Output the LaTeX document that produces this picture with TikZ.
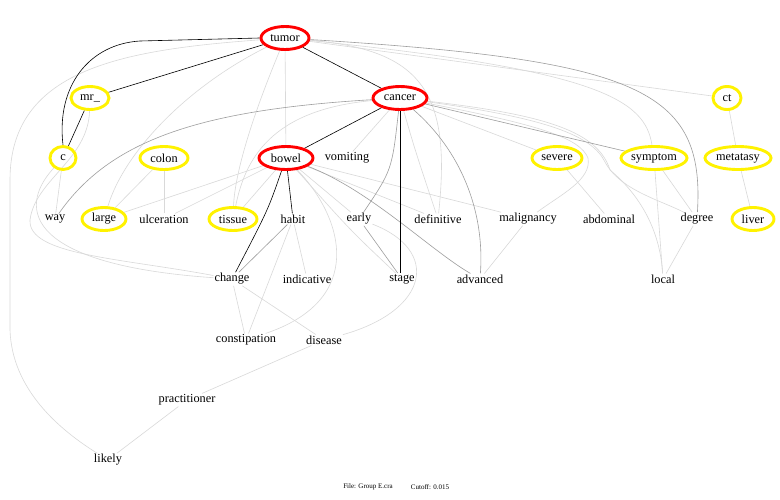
\documentclass[tikz,border=0pt]{standalone}
\usepackage{fontspec}
\setmainfont{Liberation Serif}
\usetikzlibrary{shapes.geometric,backgrounds}
\begin{document}
\begin{tikzpicture}[x=1pt,y=-1pt,
 lab/.style={font=\fontsize{12.3}{14}\selectfont, inner sep=1pt},
 rnode/.style={lab, ellipse, draw=red, line width=2.9pt, minimum height=23pt, inner sep=0pt},
 ynode/.style={lab, ellipse, draw=yellow, line width=2.9pt, minimum height=23pt, inner sep=0pt},
 foot/.style={font=\fontsize{7}{8}\selectfont, inner sep=0pt},
 blk/.style={draw=black, line width=0.6pt},
 dg/.style={draw=black!38, line width=0.6pt},
 lg/.style={draw=black!15, line width=0.6pt}]
\useasboundingbox (0,0) rectangle (780,499);
% nodes
\node[rnode, minimum width=48pt] (tumor) at (285,38) {tumor};
\node[ynode, minimum width=38pt] (mr) at (90,98) {mr\_};
\node[rnode, minimum width=54pt] (cancer) at (400,98) {cancer};
\node[ynode, minimum width=28pt] (ct) at (727,98) {ct};
\node[ynode, minimum width=26pt] (c) at (63,158) {c};
\node[ynode, minimum width=48pt] (colon) at (164,158) {colon};
\node[rnode, minimum width=54pt] (bowel) at (286,158) {bowel};
\node[lab] (vomiting) at (347,158) {vomiting};
\node[ynode, minimum width=50pt] (severe) at (557,158) {severe};
\node[ynode, minimum width=66pt] (symptom) at (654,158) {symptom};
\node[ynode, minimum width=66pt] (metatasy) at (738,158) {metatasy};
\node[lab] (way) at (55,219) {way};
\node[ynode, minimum width=44pt] (large) at (104,219) {large};
\node[lab] (ulceration) at (164,219) {ulceration};
\node[ynode, minimum width=48pt] (tissue) at (233,219) {tissue};
\node[lab] (habit) at (293,219) {habit};
\node[lab] (early) at (359,219) {early};
\node[lab] (definitive) at (438,219) {definitive};
\node[lab] (malignancy) at (528,219) {malignancy};
\node[lab] (abdominal) at (609,219) {abdominal};
\node[lab] (degree) at (697,219) {degree};
\node[ynode, minimum width=42pt] (liver) at (753,219) {liver};
\node[lab] (change) at (232,279) {change};
\node[lab] (indicative) at (307,279) {indicative};
\node[lab] (stage) at (402,279) {stage};
\node[lab] (advanced) at (480,279) {advanced};
\node[lab] (local) at (663,279) {local};
\node[lab] (constipation) at (246,340) {constipation};
\node[lab] (disease) at (324,340) {disease};
\node[lab] (practitioner) at (187,400) {practitioner};
\node[lab] (likely) at (108,460) {likely};
\node[foot] (f1) at (368,487) {File: Group E.cra};
\node[foot] (f2) at (430,487) {Cutoff: 0.015};
\begin{pgfonlayer}{background}
\fill[white] (0,0) rectangle (780,499);
% light gray
\draw[lg] (tumor) -- (bowel);
\draw[lg] (tumor) .. controls (255,110) and (235,170) .. (tissue);
\draw[lg] (tumor) .. controls (190,85) and (125,150) .. (large);
\draw[lg] (tumor) .. controls (120,50) and (10,70) .. (10,180) -- (10,330) .. controls (12,390) and (60,430) .. (likely);
\draw[lg] (tumor) -- (ct);
\draw[lg] (tumor) .. controls (600,70) and (645,100) .. (symptom);
\draw[lg] (tumor) .. controls (420,50) and (452,90) .. (definitive);
\draw[lg] (cancer) -- (vomiting);
\draw[lg] (cancer) -- (severe);
\draw[lg] (cancer) .. controls (415,150) .. (definitive);
\draw[lg] (cancer) .. controls (540,125) and (580,138) .. (588,158) .. controls (592,180) and (560,195) .. (malignancy);
\draw[lg] (cancer) .. controls (545,118) and (592,135) .. (605,162) .. controls (620,190) and (660,200) .. (degree);
\draw[lg] (cancer) .. controls (548,115) and (598,132) .. (610,170) .. controls (640,195) and (660,230) .. (local);
\draw[lg] (cancer) .. controls (270,110) and (245,160) .. (tissue);
\draw[lg] (symptom) -- (local);
\draw[lg] (symptom) -- (degree);
\draw[lg] (degree) -- (local);
\draw[lg] (severe) -- (abdominal);
\draw[lg] (ct) -- (metatasy);
\draw[lg] (metatasy) -- (liver);
\draw[lg] (mr) .. controls (88,160) and (35,180) .. (30,220) .. controls (28,255) and (120,258) .. (change);
\draw[lg] (c) .. controls (15,210) and (30,265) .. (change);
\draw[lg] (c) -- (way);
\draw[lg] (colon) -- (large);
\draw[lg] (colon) -- (ulceration);
\draw[lg] (bowel) -- (large);
\draw[lg] (bowel) -- (ulceration);
\draw[lg] (bowel) -- (tissue);
\draw[lg] (bowel) -- (early);
\draw[lg] (bowel) -- (definitive);
\draw[lg] (bowel) -- (malignancy);
\draw[lg] (bowel) .. controls (350,230) .. (stage);
\draw[lg] (bowel) .. controls (345,220) and (365,300) .. (constipation);
\draw[lg] (early) .. controls (440,250) and (430,310) .. (disease);
\draw[lg] (habit) -- (indicative);
\draw[lg] (habit) -- (constipation);
\draw[lg] (change) -- (constipation);
\draw[lg] (change) -- (disease);
\draw[lg] (disease) -- (practitioner);
\draw[lg] (practitioner) -- (likely);
\draw[lg] (malignancy) -- (advanced);
% dark gray
\draw[dg] (tumor) .. controls (640,60) and (705,90) .. (degree);
\draw[dg] (cancer) -- (symptom);
\draw[dg] (cancer) .. controls (200,110) and (110,140) .. (way);
\draw[dg] (cancer) .. controls (460,150) and (485,210) .. (advanced);
\draw[dg] (cancer) .. controls (392,170) .. (early);
\draw[dg] (bowel) .. controls (370,190) and (430,250) .. (advanced);
\draw[dg] (habit) -- (change);
\draw[dg] (early) -- (stage);
% black
\draw[blk] (tumor) -- (mr);
\draw[blk] (tumor) -- (cancer);
\draw[blk] (tumor.west) -- (140,41) .. controls (90,44) and (56,85) .. (c.north);
\draw[blk] (mr) -- (c);
\draw[blk] (cancer) -- (bowel);
\draw[blk] (cancer.south) -- (cancer.south |- stage.north);
\draw[blk] (bowel) .. controls (268,210) .. (change);
\draw[blk] (bowel) -- (habit);
\end{pgfonlayer}
\end{tikzpicture}
\end{document}
